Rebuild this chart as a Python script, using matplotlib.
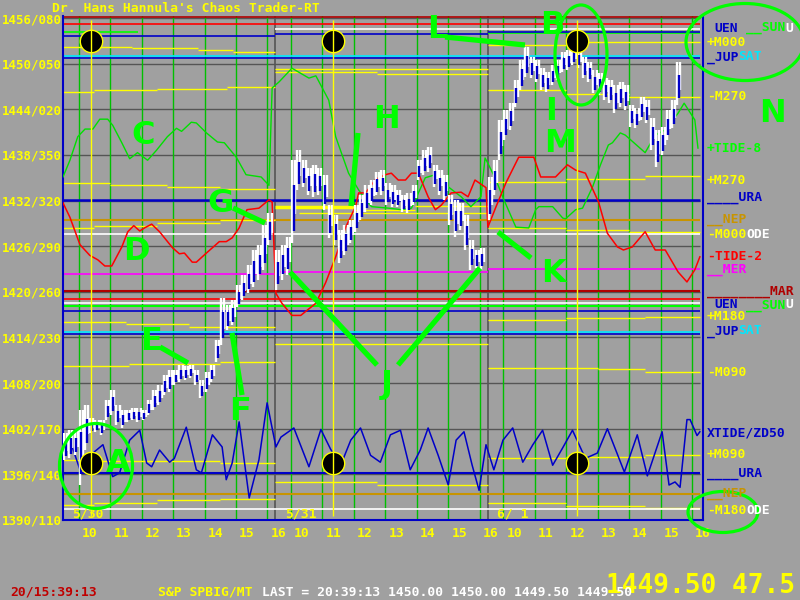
import matplotlib
matplotlib.use("Agg")
import matplotlib.pyplot as plt
from matplotlib.patches import Ellipse

# ---------------- data ----------------
price_ticks = [1390, 1396, 1402, 1408, 1414, 1420, 1426, 1432, 1438, 1444, 1450, 1456]
price_labels = ["1390/110", "1396/140", "1402/170", "1408/200", "1414/230", "1420/260",
                "1426/290", "1432/320", "1438/350", "1444/020", "1450/050", "1456/080"]
day_labels = ["5/30", "5/31", "6/ 1"]
hour_labels = ["10", "11", "12", "13", "14", "15", "16"]

# 10 minute bars from 9:30, one list pair per day
day1_high = [1401.4, 1401.8, 1401.8, 1404.5, 1405.1, 1403.4, 1403.1, 1403.1, 1405.8, 1407.1,
             1405.1, 1404.5, 1404.5, 1404.7, 1404.7, 1404.5, 1405.8, 1407.1, 1407.8, 1409.1,
             1409.7, 1409.7, 1410.4, 1410.2, 1410.4, 1409.7, 1408.4, 1409.5, 1410.4, 1413.7,
             1419.2, 1418.3, 1418.9, 1420.9, 1422.2, 1423.5, 1425.5, 1426.2, 1428.8, 1430.4]
day1_low = [1397.9, 1398.2, 1398.5, 1394.6, 1399.2, 1401.4, 1401.6, 1401.2, 1403.1, 1403.8,
            1402.5, 1402.1, 1402.9, 1403.1, 1402.9, 1403.1, 1403.8, 1404.5, 1405.1, 1406.4,
            1406.8, 1407.8, 1408.2, 1408.4, 1408.7, 1407.8, 1406.0, 1406.8, 1408.2, 1410.8,
            1413.0, 1415.0, 1415.6, 1418.0, 1418.9, 1419.8, 1420.6, 1421.6, 1422.9, 1426.2]
day2_high = [1425.5, 1426.2, 1427.2, 1437.3, 1438.6, 1437.3, 1436.3, 1436.7, 1436.3, 1435.4,
             1431.4, 1430.1, 1428.1, 1428.8, 1429.4, 1431.4, 1432.7, 1434.0, 1434.7, 1435.8,
             1436.0, 1434.3, 1434.0, 1433.4, 1432.7, 1433.0, 1434.0, 1437.3, 1438.6, 1439.0,
             1436.7, 1436.0, 1435.4, 1432.7, 1432.1, 1431.7, 1430.1, 1426.8, 1425.5, 1425.8]
day2_low = [1420.2, 1421.6, 1422.2, 1426.4, 1433.4, 1433.8, 1432.7, 1432.5, 1432.7, 1430.8,
            1427.1, 1426.2, 1423.8, 1424.8, 1426.4, 1427.9, 1429.4, 1430.5, 1431.4, 1432.7,
            1432.7, 1431.4, 1431.1, 1431.1, 1430.5, 1430.4, 1431.4, 1434.7, 1435.4, 1435.8,
            1433.8, 1432.7, 1432.1, 1428.8, 1427.2, 1428.1, 1425.5, 1422.9, 1423.1, 1422.9]
day3_high = [1435.1, 1437.3, 1442.6, 1443.9, 1444.8, 1447.9, 1450.5, 1452.2, 1450.9, 1450.5,
             1449.4, 1448.9, 1449.8, 1450.5, 1451.5, 1451.8, 1452.2, 1451.8, 1450.9, 1450.2,
             1449.2, 1448.8, 1448.1, 1447.9, 1447.2, 1447.6, 1447.2, 1444.6, 1444.2, 1445.6,
             1445.2, 1442.9, 1441.3, 1441.7, 1443.9, 1445.2, 1450.2]
day3_low = [1429.4, 1432.7, 1437.3, 1440.0, 1441.3, 1444.3, 1446.5, 1448.2, 1448.1, 1447.6,
            1446.5, 1446.3, 1447.2, 1447.9, 1448.9, 1449.2, 1449.8, 1449.4, 1448.1, 1447.6,
            1446.1, 1445.9, 1445.2, 1444.8, 1443.5, 1444.3, 1443.9, 1441.7, 1441.5, 1442.6,
            1442.2, 1438.6, 1436.4, 1438.0, 1440.0, 1441.5, 1444.6]

# tide curves: session hours since 5/30 9:30 (6.75 h per day) and price
tide8_t = [0.00, 0.22, 0.47, 0.70, 0.95, 1.17, 1.42, 1.58, 1.87, 2.12, 2.37, 2.69, 2.97, 3.32,
           3.61, 3.77, 4.08, 4.24, 4.56, 4.91, 5.13, 5.51, 5.82, 6.30, 6.55, 6.65, 6.87, 7.28,
           7.82, 8.04, 8.45, 8.67, 9.08, 9.40, 9.62, 9.81, 10.35, 10.76, 11.08, 11.30, 11.52,
           11.84, 12.25, 12.66, 12.97, 13.29, 13.42, 13.51, 13.77, 14.02, 14.40, 14.81, 15.03,
           15.13, 15.57, 15.89, 15.98, 16.30, 16.52, 16.84, 17.09, 17.34, 17.47, 17.72, 17.88,
           18.51, 18.83, 19.15, 19.56, 19.75, 20.09, 20.19]
tide8_p = [1435.1, 1437.3, 1440.4, 1441.4, 1441.4, 1442.7, 1442.7, 1441.9, 1439.6, 1437.5,
           1438.3, 1437.3, 1438.6, 1440.4, 1441.5, 1441.1, 1442.3, 1442.2, 1440.9, 1439.7,
           1439.6, 1437.7, 1435.4, 1435.1, 1434.0, 1446.8, 1447.6, 1449.4, 1448.1, 1448.4,
           1445.2, 1440.4, 1435.6, 1433.4, 1432.1, 1431.2, 1431.0, 1430.8, 1431.0, 1433.0,
           1435.0, 1435.4, 1433.8, 1432.5, 1431.2, 1432.5, 1437.6, 1436.9, 1434.7, 1432.1,
           1428.5, 1428.4, 1430.8, 1431.2, 1431.2, 1429.7, 1429.6, 1430.8, 1431.0, 1433.8,
           1436.7, 1439.3, 1439.6, 1440.9, 1440.6, 1438.3, 1440.6, 1441.3, 1443.5, 1444.8,
           1442.6, 1438.9]

tide2_t = [0.00, 0.22, 0.54, 0.85, 1.11, 1.33, 1.55, 1.87, 2.06, 2.25, 2.44, 2.59, 2.82, 3.07,
           3.48, 3.70, 3.86, 4.11, 4.24, 4.56, 4.97, 5.19, 5.38, 5.60, 5.85, 6.23, 6.55, 6.65,
           6.77, 6.96, 7.28, 7.56, 8.04, 8.35, 8.67, 8.99, 9.30, 9.40, 9.62, 9.94, 10.25, 10.44,
           10.66, 10.89, 11.08, 11.30, 11.61, 11.84, 12.03, 12.34, 12.66, 12.88, 13.10, 13.45,
           13.51, 13.77, 14.08, 14.49, 14.97, 15.19, 15.66, 16.04, 16.30, 16.61, 17.03, 17.31,
           17.63, 17.82, 18.10, 18.51, 18.83, 19.15, 19.56, 19.84, 20.09, 20.25]
tide2_p = [1431.7, 1429.8, 1426.2, 1424.8, 1424.2, 1423.4, 1423.4, 1425.9, 1427.9, 1428.7,
           1428.0, 1428.4, 1428.9, 1427.9, 1425.8, 1425.0, 1425.1, 1423.9, 1423.9, 1425.1,
           1426.6, 1426.6, 1427.1, 1428.4, 1430.8, 1431.0, 1432.1, 1431.8, 1419.8, 1418.5,
           1416.9, 1416.9, 1418.5, 1421.2, 1424.6, 1428.5, 1431.2, 1433.0, 1433.0, 1434.8,
           1435.4, 1435.6, 1434.7, 1434.7, 1435.6, 1435.6, 1432.5, 1430.8, 1431.4, 1433.0,
           1433.1, 1432.5, 1434.7, 1433.7, 1428.5, 1431.2, 1434.3, 1437.7, 1437.7, 1435.1,
           1435.1, 1436.7, 1436.0, 1435.6, 1431.8, 1427.7, 1425.9, 1425.5, 1425.9, 1427.9,
           1425.5, 1425.5, 1422.6, 1421.3, 1422.9, 1424.6]

xtide_t = [0.00, 0.22, 0.54, 0.95, 1.27, 1.58, 1.80, 2.12, 2.44, 2.66, 2.82, 3.07, 3.39, 3.54,
           3.92, 4.24, 4.40, 4.75, 5.06, 5.19, 5.38, 5.60, 5.92, 6.23, 6.49, 6.77, 6.93, 7.34,
           7.82, 8.20, 8.51, 8.83, 9.15, 9.46, 9.78, 10.09, 10.41, 10.73, 11.04, 11.36, 11.61,
           11.93, 12.25, 12.50, 12.75, 13.01, 13.23, 13.45, 13.70, 13.99, 14.30, 14.62, 14.94,
           15.25, 15.57, 15.89, 16.20, 16.61, 16.99, 17.31, 17.85, 18.26, 18.58, 19.05, 19.27,
           19.46, 19.62, 19.84, 19.94, 20.16, 20.25]
xtide_p = [1398.5, 1400.5, 1396.6, 1398.8, 1399.9, 1395.7, 1396.2, 1400.5, 1401.8, 1397.5,
           1397.0, 1399.2, 1397.6, 1398.1, 1402.2, 1396.6, 1396.2, 1401.2, 1399.6, 1395.3,
           1397.5, 1402.9, 1392.9, 1397.9, 1405.4, 1399.6, 1400.9, 1402.1, 1397.0, 1401.9,
           1399.3, 1397.2, 1400.5, 1402.1, 1398.5, 1397.6, 1401.2, 1401.8, 1396.6, 1399.2,
           1402.1, 1398.5, 1394.6, 1400.5, 1401.6, 1397.2, 1393.9, 1399.9, 1396.6, 1400.5,
           1402.1, 1397.6, 1399.9, 1401.8, 1397.2, 1399.5, 1401.8, 1398.1, 1398.8, 1402.0,
           1396.3, 1401.2, 1395.8, 1401.6, 1394.6, 1395.0, 1394.3, 1403.2, 1403.2, 1401.1,
           1401.6]

# planetary / harmonic price levels: (start hour, end hour, price)
sat_top = [(0, 20.25, 1456.1)]
red_top = [(0, 20.25, 1455.2)]
white_top = [(6.75, 20.25, 1454.6)]
sun_top = [(0, 2.4, 1454.2), (13.5, 20.25, 1454.0)]
uen_top = [(0, 6.75, 1453.6), (6.75, 13.5, 1453.9), (13.5, 20.25, 1454.2)]
m000_top = [(0, 2.2, 1452.2), (2.2, 4.3, 1452.0), (4.3, 5.4, 1451.8), (5.4, 6.75, 1451.5),
            (6.75, 13.5, 1449.3), (13.5, 16.0, 1452.5), (16.0, 20.25, 1452.8)]
m000_top_b = [(6.75, 10.0, 1448.9), (10.0, 13.5, 1448.6)]
jup_top = [(0, 20.25, 1451.0)]
sat_top_b = [(0, 20.25, 1450.8)]
m270_top = [(0, 1.0, 1446.3), (1.0, 3.0, 1446.5), (3.0, 5.2, 1446.7), (5.2, 6.75, 1446.9),
            (13.5, 16.0, 1446.6), (16.0, 18.0, 1446.0), (18.0, 20.25, 1445.6)]
m270_low = [(0, 1.5, 1434.3), (1.5, 3.3, 1434.1), (3.3, 5.0, 1433.8), (5.0, 6.75, 1433.5),
            (13.5, 16.0, 1434.5), (16.0, 18.5, 1434.9), (18.5, 20.25, 1435.2)]
ura_top = [(0, 20.25, 1432.1)]
nep_top = [(0, 20.25, 1429.4)]
m000_mid = [(0, 1.0, 1428.4), (1.0, 3.0, 1428.7), (3.0, 5.0, 1429.0), (5.0, 6.75, 1429.4),
            (9.3, 11.2, 1430.8), (11.2, 13.5, 1431.3),
            (13.5, 16.0, 1428.4), (16.0, 18.0, 1428.1), (18.0, 20.25, 1427.9)]
m000_mid_b = [(7.5, 13.5, 1430.4)]
m000_thick = [(6.75, 9.3, 1431.2)]
ode_mid = [(0, 20.25, 1427.6)]
mer = [(0, 6.75, 1422.4), (6.75, 13.5, 1422.6), (13.5, 20.25, 1423.0)]
mar = [(0, 20.25, 1420.1)]
red_mid = [(0, 20.25, 1419.1)]
white_mid = [(0, 20.25, 1418.5)]
sun_mid = [(0, 20.25, 1418.1)]
uen_mid = [(0, 20.25, 1417.5)]
m180_top = [(0, 2.0, 1416.0), (2.0, 4.0, 1415.8), (4.0, 6.75, 1415.4),
            (13.5, 16.0, 1416.3), (16.0, 18.5, 1416.5), (18.5, 20.25, 1416.7)]
jup_mid = [(0, 20.25, 1414.7)]
sat_mid = [(0, 20.25, 1414.5)]
m090_top = [(0, 2.1, 1410.2), (2.1, 5.0, 1410.5), (5.0, 6.75, 1410.8), (6.75, 13.5, 1413.2),
            (13.5, 17.0, 1410.0), (17.0, 18.5, 1409.8), (18.5, 20.25, 1409.5)]
m090_low = [(0, 1.0, 1397.9), (1.0, 5.0, 1397.7), (5.0, 6.75, 1397.5),
            (13.5, 16.0, 1398.1), (16.0, 18.5, 1398.3), (18.5, 20.25, 1398.6)]
ura_low = [(0, 20.25, 1396.2)]
nep_low = [(0, 20.25, 1393.4)]
m180_low = [(0, 1.0, 1392.0), (1.0, 3.0, 1392.3), (3.0, 5.0, 1392.6), (5.0, 6.75, 1392.8),
            (6.75, 10.0, 1395.0), (10.0, 13.5, 1394.6),
            (13.5, 16.0, 1392.2), (16.0, 18.5, 1391.9), (18.5, 20.25, 1391.6)]
ode_low = [(0, 20.25, 1391.4)]

marker_times = [0.89, 8.58, 16.33]
marker_prices = [1453.0, 1397.5]

# ---------------- style ----------------
BG = "#a0a0a0"
YEL = "#ffff00"
BLUE = "#0000c8"
DKRED = "#b00000"
RED = "#ff0000"
ORANGE = "#c89400"
MAG = "#ff00ff"
CYAN = "#00e8ff"
GREEN = "#00ff00"
GRIDGREEN = "#00c000"
GRID = "#555555"
MONO = "DejaVu Sans Mono"
FS = 9.4

DAY = 6.75
fig = plt.figure(figsize=(8, 6), dpi=100, facecolor=BG)
ax = fig.add_axes([63 / 800, 80 / 600, 640 / 800, 504 / 600])
ax.set_facecolor(BG)
ax.set_xlim(0, 3 * DAY)
ax.set_ylim(1390, 1390 + 504 * 0.13148)

for s in ("left", "right", "bottom"):
    ax.spines[s].set_color(BLUE)
    ax.spines[s].set_linewidth(1.5)
ax.spines["top"].set_visible(False)

# grid
ax.hlines(price_ticks[1:], 0, 3 * DAY, color=GRID, lw=1, zorder=1)
green_x = [d * DAY + 0.5 + k for d in range(3) for k in range(7)]
ax.vlines(green_x, 1390, 1457, color=GRIDGREEN, lw=1, zorder=1)
ax.vlines([DAY, 2 * DAY], 1390, 1457, color=GRID, lw=1.2, zorder=1)

ax.set_yticks(price_ticks)
ax.set_yticklabels(price_labels, color=YEL, family=MONO, weight="bold", fontsize=8.9)
ax.set_xticks([x + 0.35 for x in green_x])
ax.set_xticklabels(hour_labels * 3, color=YEL, family=MONO, weight="bold", fontsize=FS)
ax.tick_params(axis="y", length=0, pad=0.5)
ax.tick_params(axis="x", length=0, pad=5)

levels = [
    (sat_top, DKRED, 1.2), (red_top, RED, 1.2), (white_top, "white", 1.2),
    (sun_top, GREEN, 1.2), (uen_top, BLUE, 1.2), (m000_top, YEL, 1), (m000_top_b, YEL, 1),
    (jup_top, CYAN, 1.2), (sat_top_b, BLUE, 1.2), (m270_top, YEL, 1), (m270_low, YEL, 1),
    (ura_top, BLUE, 1.8), (nep_top, ORANGE, 1.5), (m000_mid, YEL, 1), (m000_mid_b, YEL, 1),
    (m000_thick, YEL, 2.5), (ode_mid, "white", 1.2), (mer, MAG, 1.2), (mar, DKRED, 1.5),
    (red_mid, RED, 1.2), (white_mid, "white", 1.2), (sun_mid, GREEN, 1.5), (uen_mid, BLUE, 1.2),
    (m180_top, YEL, 1), (jup_mid, CYAN, 1.2), (sat_mid, BLUE, 1.2), (m090_top, YEL, 1),
    (m090_low, YEL, 1), (ura_low, BLUE, 1.5), (nep_low, ORANGE, 1.5), (m180_low, YEL, 1),
    (ode_low, "white", 1.2),
]
for segs, col, lw in levels:
    for x0, x1, p in segs:
        ax.hlines(p, x0, x1, color=col, lw=lw, zorder=2)

# tide curves
ax.plot(tide8_t, tide8_p, color="#00e000", lw=1, zorder=3)
ax.plot(tide2_t, tide2_p, color=RED, lw=1.1, zorder=3)
ax.plot(xtide_t, xtide_p, color=BLUE, lw=1.1, zorder=3)

# price bars: white tick range with blue down-ticks inside
for d, (hi, lo) in enumerate([(day1_high, day1_low), (day2_high, day2_low), (day3_high, day3_low)]):
    xs = [d * DAY + (k + 0.5) / 6 for k in range(len(hi))]
    ax.vlines([x - 0.05 for x in xs], lo, hi, color="white", lw=1.7, zorder=4)
    w_lo = [l + 0.35 * (h - l) for h, l in zip(hi, lo)]
    ax.vlines([x + 0.05 for x in xs], w_lo, hi, color="white", lw=1.7, zorder=4)
    b_lo = [l + 0.15 * (h - l) for h, l in zip(hi, lo)]
    b_hi = [h - 0.3 * (h - l) for h, l in zip(hi, lo)]
    ax.vlines(xs, b_lo, b_hi, color=BLUE, lw=1.7, zorder=4)

# time markers
for t in marker_times:
    ax.scatter([t, t], marker_prices, s=260, color="black", edgecolors=YEL, linewidths=1, zorder=5)
ax.vlines(marker_times, 1390.5, 1455.8, color=YEL, lw=1, zorder=6)

for d, lab in enumerate(day_labels):
    ax.text(d * DAY + 0.8, 1390.8, lab, color=YEL, family=MONO, weight="bold",
            fontsize=FS, ha="center", va="center", zorder=7)

# ---------------- overlay in pixel space ----------------
ov = fig.add_axes([0, 0, 1, 1], zorder=10)
ov.set_xlim(0, 800)
ov.set_ylim(600, 0)
ov.axis("off")
ov.patch.set_alpha(0)

ov.text(52, 8, "Dr. Hans Hannula's Chaos Trader-RT", color=YEL, family=MONO,
        weight="bold", fontsize=FS, va="center", ha="left")

right_labels = [
    (28, [(1, "UEN", BLUE), (5, "__SUN", GREEN), (10, "U", "white")]),
    (43, [(0, "+M000", YEL)]),
    (57, [(0, "_JUP", BLUE), (4, "SAT", CYAN)]),
    (97, [(0, "-M270", YEL)]),
    (149, [(0, "+TIDE-8", GREEN)]),
    (180, [(0, "+M270", YEL)]),
    (198, [(0, "____URA", BLUE)]),
    (220, [(0, "__NEP", ORANGE)]),
    (235, [(0, "-M000", YEL), (5, "ODE", "white")]),
    (256, [(0, "-TIDE-2", RED)]),
    (270, [(0, "__MER", MAG)]),
    (291, [(0, "________MAR", DKRED)]),
    (305, [(1, "UEN", BLUE), (5, "__SUN", GREEN), (10, "U", "white")]),
    (317, [(0, "+M180", YEL)]),
    (331, [(0, "_JUP", BLUE), (4, "SAT", CYAN)]),
    (372, [(0, "-M090", YEL)]),
    (433, [(0, "XTIDE/ZD50", BLUE)]),
    (455, [(0, "+M090", YEL)]),
    (473, [(0, "____URA", BLUE)]),
    (493, [(0, "__NEP", ORANGE)]),
    (510, [(0, "-M180", YEL), (5, "ODE", "white")]),
]
for y, parts in right_labels:
    for col, txt, c in parts:
        ov.text(707 + col * 7.8, y, txt, color=c, family=MONO, weight="bold",
                fontsize=FS, va="center", ha="left")

# status line
ov.text(10, 592, "20/15:39:13", color="#c00000", family=MONO, weight="bold", fontsize=FS, va="center")
ov.text(606, 586, "1449.50 47.5", color=YEL, family=MONO, weight="bold", fontsize=18.8, va="center")
ov.text(158, 592, "S&P SPBIG/MT", color=YEL, family=MONO, weight="bold", fontsize=FS, va="center")
ov.text(262, 592, "LAST = 20:39:13 1450.00 1450.00 1449.50 1449.50", color="white",
        family=MONO, weight="bold", fontsize=FS, va="center")

# green hand annotations
letters = [("A", 118, 463), ("B", 552, 26), ("C", 143, 136), ("D", 136, 252), ("E", 151, 342),
           ("F", 240, 411), ("G", 221, 203), ("H", 387, 119), ("I", 551, 111), ("J", 387, 384),
           ("K", 553, 274), ("L", 437, 29), ("M", 560, 143), ("N", 772, 114)]
for t, x, y in letters:
    ov.text(x, y, t, color=GREEN, weight="bold", fontsize=23, ha="center", va="center")

strokes = [((160, 347), (188, 363)), ((232, 333), (242, 395)), ((233, 208), (265, 223)),
           ((358, 133), (351, 206)), ((290, 272), (377, 365)), ((480, 268), (398, 365)),
           ((531, 258), (498, 232)), ((445, 37), (525, 45))]
for (x0, y0), (x1, y1) in strokes:
    ov.plot([x0, x1], [y0, y1], color=GREEN, lw=3.8, solid_capstyle="butt")

for cx, cy, w, h in [(96, 466, 73, 85), (581, 55, 52, 100), (745, 42, 118, 77), (723, 512, 70, 41)]:
    ov.add_patch(Ellipse((cx, cy), w, h, fill=False, edgecolor=GREEN, lw=2.3))

fig.savefig("out.png", dpi=100, facecolor=BG)
